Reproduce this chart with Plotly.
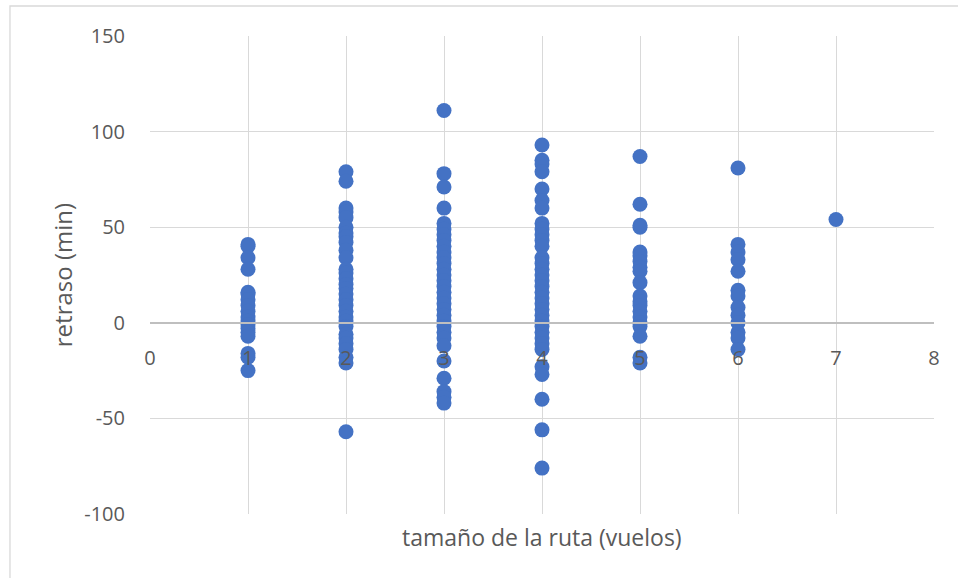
import plotly.graph_objects as go

# Data: delay (min) by route size (flights)
route_sizes = [1, 2, 3, 4, 5, 6, 7]
delays_1 = [41, 40, 34, 28, 16, 15, 12, 9, 6, 3, 1, -1, -3, -5, -7, -16, -18, -25]
delays_2 = [79, 74, 60, 58, 55, 50, 47, 45, 42, 38, 34, 28, 26, 23, 20, 18, 15, 12, 9, 6,
            3, 1, -2, -6, -8, -11, -14, -18, -21, -57]
delays_3 = [111, 78, 71, 60, 52, 49, 46, 43, 40, 37, 34, 31, 28, 25, 22, 19, 16, 13, 10, 7,
            4, 1, -2, -5, -8, -12, -20, -29, -36, -39, -42]
delays_4 = [93, 85, 83, 79, 70, 64, 60, 52, 49, 46, 43, 40, 34, 31, 28, 25, 22, 19, 16, 13,
            10, 7, 4, 1, -2, -5, -8, -11, -14, -23, -27, -40, -56, -76]
delays_5 = [87, 62, 51, 50, 37, 35, 32, 29, 27, 21, 14, 11, 9, 6, 3, 0, -2, -7, -18, -21]
delays_6 = [81, 41, 37, 33, 27, 17, 14, 8, 4, 0, -5, -8, -14]
delays_7 = [54]

x_ticks = [0, 1, 2, 3, 4, 5, 6, 7, 8]
y_ticks = [-100, -50, 0, 50, 100, 150]
y_tick_labels = ["-100", "-50", "0", "50", "100", "150"]

all_delays = [delays_1, delays_2, delays_3, delays_4, delays_5, delays_6, delays_7]
xs, ys = [], []
for size, vals in zip(route_sizes, all_delays):
    xs += [size] * len(vals)
    ys += vals

font_family = "'Open Sans', Lato, sans-serif"
text_color = "#595959"

fig = go.Figure()
fig.add_trace(go.Scatter(
    x=xs, y=ys, mode="markers",
    marker=dict(color="#4472C4", size=15, line=dict(width=0)),
    showlegend=False, hoverinfo="x+y",
))

fig.update_layout(
    width=958, height=578,
    margin=dict(l=150, r=24, t=36, b=64),
    paper_bgcolor="white", plot_bgcolor="white",
    font=dict(family=font_family, color=text_color, size=20),
    xaxis=dict(
        range=[0, 8], tickvals=x_ticks, ticktext=[str(v) for v in x_ticks],
        showgrid=True, gridcolor="#d9d9d9", gridwidth=1.3,
        zeroline=False, showline=True, linecolor="#bfbfbf", linewidth=1.5,
        anchor="free", position=0.4,
        ticks="outside", ticklen=17, tickcolor="rgba(0,0,0,0)",
        tickfont=dict(size=20, color=text_color),
    ),
    yaxis=dict(
        range=[-100, 150], tickvals=y_ticks, ticktext=y_tick_labels,
        showgrid=True, gridcolor="#d9d9d9", gridwidth=1.3,
        zeroline=False, showline=False,
        ticks="outside", ticklen=20, tickcolor="rgba(0,0,0,0)",
        tickfont=dict(size=20, color=text_color),
    ),
    annotations=[
        dict(text="tamaño de la ruta (vuelos)", xref="paper", yref="paper",
             x=0.5, y=-0.048, xanchor="center", yanchor="middle", showarrow=False,
             font=dict(size=23, color=text_color, family=font_family)),
        dict(text="retraso (min)", xref="paper", yref="paper",
             x=-0.112, y=0.5, xanchor="center", yanchor="middle", showarrow=False,
             textangle=-90, font=dict(size=24, color=text_color, family=font_family)),
    ],
    shapes=[
        dict(type="rect", xref="paper", yref="paper",
             x0=-0.1786, x1=1.2, y0=-0.3, y1=1.0628,
             line=dict(color="#d9d9d9", width=1.3), fillcolor="rgba(0,0,0,0)", layer="below"),
    ],
)

fig.write_html(
    "out.html",
    config={"displayModeBar": False},
    post_script="document.body.style.margin='0';document.body.style.overflow='hidden';",
)
